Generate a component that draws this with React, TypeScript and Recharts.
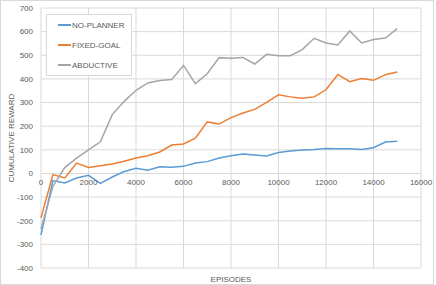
import {
  LineChart,
  Line,
  XAxis,
  YAxis,
  Legend,
  ReferenceDot,
  ReferenceLine,
} from "recharts";

const episodes = [
  0, 500, 1000, 1500, 2000, 2500, 3000, 3500, 4000, 4500, 5000, 5500, 6000,
  6500, 7000, 7500, 8000, 8500, 9000, 9500, 10000, 10500, 11000, 11500, 12000,
  12500, 13000, 13500, 14000, 14500, 15000,
];

const noPlanner = [
  -260, -30, -40, -19, -8, -42, -15, 8, 22, 14, 28, 26, 30, 44, 50, 65, 75,
  82, 78, 74, 89, 95, 99, 101, 106, 104, 105, 101, 109, 133, 136,
];

const fixedGoal = [
  -188, -5, -19, 44, 25, 33, 40, 52, 65, 75, 91, 120, 125, 149, 218, 209, 236,
  256, 271, 301, 333, 324, 318, 324, 354, 419, 388, 402, 394, 418, 429,
];

const abductive = [
  -235, -55, 25, 65, 100, 134, 249, 305, 352, 383, 393, 397, 457, 380, 422,
  490, 487, 491, 463, 504, 498, 498, 524, 572, 552, 544, 603, 552, 567, 573,
  613,
];

const seriesNames = ["NO-PLANNER", "FIXED-GOAL", "ABDUCTIVE"];

const xTicks = [0, 2000, 4000, 6000, 8000, 10000, 12000, 14000, 16000];
const yTicks = [-400, -300, -200, -100, 0, 100, 200, 300, 400, 500, 600, 700];

const data = episodes.map((ep, i) => ({
  ep,
  noPlanner: noPlanner[i],
  fixedGoal: fixedGoal[i],
  abductive: abductive[i],
}));

const font = "'Liberation Sans', Arial, sans-serif";
const textColor = "#595959";
const gridColor = "#d9d9d9";

function LegendBox({ payload }: any) {
  const items = [...(payload || [])].sort(
    (a: any, b: any) => seriesNames.indexOf(a.value) - seriesNames.indexOf(b.value)
  );
  return (
    <div
      style={{
        width: 86,
        height: 62,
        border: "1px solid " + gridColor,
        background: "#fff",
        boxSizing: "border-box",
        fontFamily: font,
        fontSize: 8,
        color: textColor,
      }}
    >
      {items.map((p: any) => (
        <div
          key={p.value}
          style={{ display: "flex", alignItems: "center", height: 20 }}
        >
          <div
            style={{
              marginLeft: 11,
              width: 13,
              height: 1.5,
              background: p.color,
            }}
          />
          <span style={{ marginLeft: 1 }}>{p.value}</span>
        </div>
      ))}
    </div>
  );
}

export default function App() {
  return (
    <div
      style={{
        position: "absolute",
        left: 0,
        top: 0,
        width: 436,
        height: 285,
        background: "#fff",
      }}
    >
      <div
        style={{
          position: "absolute",
          left: 0,
          top: 0,
          width: 434,
          height: 285,
          boxSizing: "border-box",
          border: "1px solid " + gridColor,
          pointerEvents: "none",
        }}
      />
      <LineChart
        width={436}
        height={285}
        data={data}
        margin={{ top: 8, right: 15, left: 0, bottom: 0 }}
        style={{ fontFamily: font }}
      >
        <XAxis
          dataKey="ep"
          type="number"
          domain={[0, 16000]}
          ticks={xTicks}
          tick={false}
          tickLine={false}
          axisLine={false}
          height={17}
          label={{
            value: "EPISODES",
            position: "insideBottom",
            offset: 3,
            fontSize: 8,
            fill: textColor,
          }}
        />
        <YAxis
          type="number"
          domain={[-400, 700]}
          ticks={yTicks}
          width={41}
          tickLine={false}
          axisLine={false}
          tick={{ fontSize: 8, fill: textColor }}
          label={{
            value: "CUMULATIVE REWARD",
            angle: -90,
            position: "insideLeft",
            offset: 11,
            fontSize: 8,
            fill: textColor,
            style: { textAnchor: "middle" },
          }}
        />
        {yTicks.map((t) => (
          <ReferenceLine key={"h" + t} y={t} stroke={gridColor} />
        ))}
        {xTicks.map((t) => (
          <ReferenceLine key={"v" + t} x={t} stroke={gridColor} />
        ))}
        {xTicks.map((t) => (
          <ReferenceDot
            key={"l" + t}
            x={t}
            y={0}
            r={0}
            fill="none"
            stroke="none"
            label={{
              value: String(t),
              position: "bottom",
              offset: 6,
              fontSize: 8,
              fill: textColor,
            }}
          />
        ))}
        <Legend
          layout="vertical"
          verticalAlign="middle"
          align="center"
          wrapperStyle={{ left: 46, top: 14, width: 86, height: 62 }}
          content={<LegendBox />}
        />
        <Line
          dataKey="noPlanner"
          name={seriesNames[0]}
          stroke="#5B9BD5"
          strokeWidth={1.5}
          dot={false}
          isAnimationActive={false}
        />
        <Line
          dataKey="fixedGoal"
          name={seriesNames[1]}
          stroke="#ED7D31"
          strokeWidth={1.5}
          dot={false}
          isAnimationActive={false}
        />
        <Line
          dataKey="abductive"
          name={seriesNames[2]}
          stroke="#A5A5A5"
          strokeWidth={1.5}
          dot={false}
          isAnimationActive={false}
        />
      </LineChart>
    </div>
  );
}
